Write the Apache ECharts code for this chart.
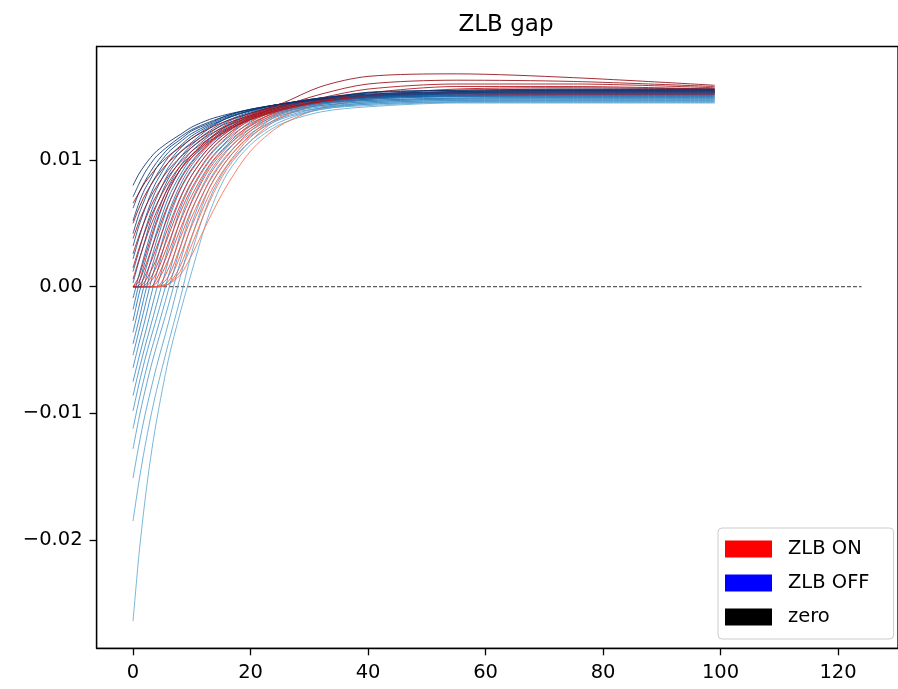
<!DOCTYPE html>
<html>
<head>
<meta charset="utf-8">
<script src="https://cdn.jsdelivr.net/npm/echarts@6/dist/echarts.min.js"></script>
<style>
html,body{margin:0;padding:0;background:#fff;}
#chart{width:898px;height:689px;}
</style>
</head>
<body>
<div id="chart"></div>
<script>
// Periods at which each path is read
const periods = [0,1,2,3,4,6,8,10,13,16,20,25,32,40,55,75,99];

// ZLB OFF paths (blue), lowest start first
const zlbOff = [
  [-0.0264,-0.0212,-0.0170,-0.0135,-0.0106,-0.0058,-0.0021,0.0012,0.0058,0.0089,0.0112,0.0128,0.0138,0.0142,0.0145,0.0145,0.0145],
  [-0.0185,-0.0154,-0.0127,-0.0103,-0.0082,-0.0045,-0.0010,0.0027,0.0069,0.0095,0.0115,0.0130,0.0140,0.0143,0.01455,0.01455,0.01455],
  [-0.0151,-0.0125,-0.0102,-0.0082,-0.0063,-0.0029,0.0007,0.0039,0.0078,0.0100,0.0119,0.0132,0.0140,0.0144,0.0146,0.0146,0.0146],
  [-0.0128,-0.0104,-0.0083,-0.0064,-0.0047,-0.0015,0.0019,0.0050,0.0084,0.0104,0.0121,0.0133,0.0141,0.0144,0.0146,0.01464,0.01464],
  [-0.0112,-0.0090,-0.0070,-0.0052,-0.0036,-0.0003,0.0030,0.0060,0.0090,0.0108,0.0123,0.0135,0.0141,0.0145,0.0147,0.0147,0.0147],
  [-0.0098,-0.0077,-0.0058,-0.0041,-0.0025,0.0008,0.0041,0.0068,0.0095,0.0111,0.0125,0.0136,0.0142,0.0145,0.0147,0.01474,0.01474],
  [-0.0086,-0.0066,-0.0048,-0.0031,-0.0014,0.0020,0.0052,0.0076,0.0099,0.0114,0.0127,0.0137,0.0143,0.0146,0.0148,0.0148,0.0148],
  [-0.0075,-0.0056,-0.0038,-0.0020,-0.0002,0.0031,0.0061,0.0082,0.0103,0.0117,0.0129,0.0138,0.0143,0.0146,0.0148,0.01484,0.01484],
  [-0.0064,-0.0045,-0.0027,-0.0008,0.0010,0.0043,0.0069,0.0088,0.0107,0.0120,0.0131,0.0139,0.0144,0.0147,0.01487,0.0149,0.0149],
  [-0.0054,-0.0035,-0.0016,0.0003,0.0020,0.0052,0.0076,0.0092,0.0110,0.0122,0.0132,0.0139,0.0145,0.0147,0.0149,0.01493,0.01493],
  [-0.0045,-0.0026,-0.0006,0.0012,0.0028,0.0058,0.0080,0.0096,0.0112,0.0123,0.0133,0.0140,0.0145,0.0148,0.0150,0.0150,0.0150],
  [-0.0036,-0.0016,0.0003,0.0020,0.0036,0.0064,0.0085,0.0099,0.0114,0.0125,0.0134,0.0141,0.0145,0.0148,0.0150,0.01503,0.01503],
  [-0.0027,-0.0006,0.0011,0.0027,0.0043,0.0070,0.0088,0.0102,0.0116,0.0126,0.0135,0.0142,0.0146,0.0149,0.01505,0.0151,0.0151],
  [-0.0018,0.0002,0.0019,0.0035,0.0050,0.0075,0.0092,0.0104,0.0117,0.0127,0.0136,0.0142,0.0146,0.0149,0.01507,0.01512,0.01512],
  [-0.0009,0.0009,0.0026,0.0042,0.0056,0.0079,0.0095,0.0107,0.0119,0.0128,0.0137,0.0142,0.0146,0.0149,0.0151,0.01517,0.01517],
  [0.0003,0.0020,0.0036,0.0052,0.0064,0.0085,0.0099,0.0110,0.0121,0.0130,0.0137,0.0143,0.0147,0.01495,0.01514,0.0152,0.0152],
  [0.0012,0.0028,0.0044,0.0058,0.0070,0.0089,0.0102,0.0112,0.0123,0.0131,0.0138,0.0143,0.0147,0.0150,0.0152,0.01526,0.01526],
  [0.0022,0.0038,0.0053,0.0066,0.0077,0.0094,0.0106,0.0114,0.0125,0.0133,0.0139,0.0144,0.0148,0.0150,0.01523,0.0153,0.0153],
  [0.0032,0.0048,0.0061,0.0073,0.0083,0.0098,0.0109,0.0117,0.0126,0.0133,0.0139,0.0144,0.0148,0.0151,0.0153,0.01536,0.01536],
  [0.0042,0.0057,0.0069,0.0080,0.0088,0.0102,0.0111,0.0119,0.0127,0.0133,0.0139,0.0144,0.0148,0.0151,0.0153,0.0154,0.0154],
  [0.0052,0.0066,0.0077,0.0085,0.0094,0.0106,0.0114,0.0121,0.0128,0.0134,0.0139,0.0144,0.0149,0.0152,0.0154,0.01546,0.01546],
  [0.0062,0.0074,0.0083,0.0091,0.0098,0.0109,0.0116,0.0123,0.0129,0.0135,0.0140,0.0144,0.0149,0.0152,0.0154,0.0155,0.0155],
  [0.0071,0.0081,0.0090,0.0097,0.0103,0.0111,0.0118,0.0124,0.0130,0.0135,0.0140,0.0144,0.0149,0.0153,0.0155,0.01555,0.01555],
  [0.0080,0.0089,0.0096,0.0102,0.0107,0.0114,0.0120,0.0126,0.0132,0.0136,0.0140,0.0144,0.0148,0.01535,0.0155,0.0156,0.0156]
];

// ZLB ON paths (red), most constrained first
const zlbOn = [
  [0,0,0,0,0,0.0002,0.0009,0.0025,0.0054,0.0080,0.0107,0.0127,0.0141,0.0148,0.0153,0.0155,0.0156],
  [0,0,0,0,0,0.0002,0.0012,0.0033,0.0067,0.0093,0.0115,0.0133,0.0144,0.0148,0.0153,0.0155,0.0155],
  [0,0,0,0,0,0.0002,0.0016,0.0040,0.0073,0.0096,0.0118,0.0134,0.0144,0.0148,0.0153,0.0155,0.0155],
  [0,0,0,0,0,0.0004,0.0024,0.0048,0.0078,0.0100,0.0120,0.0136,0.0145,0.0149,0.0153,0.0154,0.0155],
  [0,0,0,0,0,0.0008,0.0031,0.0055,0.0083,0.0103,0.0123,0.0137,0.0145,0.0150,0.0153,0.0154,0.0154],
  [0,0,0,0,0,0.0014,0.0038,0.0061,0.0088,0.0107,0.0125,0.0138,0.0146,0.0150,0.0153,0.0154,0.0154],
  [0,0,0,0,0.0003,0.0021,0.0045,0.0067,0.0093,0.0110,0.0127,0.0139,0.0146,0.0150,0.0153,0.0154,0.0154],
  [0,0,0,0,0.0006,0.0027,0.0051,0.0072,0.0096,0.0112,0.0128,0.0139,0.0147,0.0151,0.0153,0.0154,0.0154],
  [0,0,0,0.0004,0.0011,0.0034,0.0058,0.0078,0.0100,0.0115,0.0130,0.0140,0.0147,0.0151,0.0153,0.0154,0.0154],
  [0,0,0.0001,0.0007,0.0016,0.0040,0.0064,0.0083,0.0104,0.0118,0.0132,0.0141,0.0147,0.0151,0.0153,0.0154,0.0154],
  [0,0,0.0004,0.0012,0.0022,0.0047,0.0070,0.0088,0.0107,0.0120,0.0133,0.0142,0.0148,0.0151,0.0153,0.0153,0.0153],
  [0,0.0001,0.0008,0.0019,0.0031,0.0056,0.0077,0.0093,0.0110,0.0122,0.0134,0.0142,0.0148,0.0151,0.0153,0.0153,0.0153],
  [0,0.0004,0.0015,0.0028,0.0041,0.0065,0.0084,0.0098,0.0113,0.0124,0.0135,0.0143,0.0148,0.0151,0.0153,0.0153,0.0153],
  [0,0.0008,0.0023,0.0038,0.0052,0.0075,0.0092,0.0104,0.0117,0.0127,0.0136,0.0143,0.0148,0.0151,0.0152,0.0152,0.0152],
  [0.0006,0.0021,0.0035,0.0048,0.0059,0.0078,0.0092,0.0102,0.0114,0.0123,0.0132,0.0139,0.0146,0.0150,0.0154,0.0155,0.0155],
  [0.0015,0.0030,0.0043,0.0055,0.0065,0.0082,0.0095,0.0104,0.0115,0.0124,0.0132,0.0140,0.0146,0.0151,0.0156,0.0157,0.0156],
  [0.0026,0.0040,0.0052,0.0063,0.0072,0.0087,0.0098,0.0107,0.0117,0.0125,0.0133,0.0140,0.0147,0.0153,0.0158,0.0158,0.0156],
  [0.0038,0.0051,0.0062,0.0071,0.0079,0.0092,0.0102,0.0110,0.0120,0.0127,0.0134,0.0141,0.0149,0.0156,0.0160,0.0160,0.0157],
  [0.0050,0.0062,0.0072,0.0080,0.0087,0.0098,0.0106,0.0113,0.0122,0.0129,0.0135,0.0142,0.0152,0.0160,0.0163,0.0162,0.0158],
  [0.0066,0.0074,0.0082,0.0088,0.0094,0.0103,0.0110,0.0117,0.0125,0.0131,0.0137,0.0144,0.0158,0.0166,0.0168,0.0165,0.0159]
];

// Zero reference line extent
const zeroLineX = [0, 124];
const zeroLineY = [0, 0];

// Tick labels
const xTicks = [0, 20, 40, 60, 80, 100, 120];
const yTicks = [-0.02, -0.01, 0, 0.01];

const legendNames = ['ZLB ON', 'ZLB OFF', 'zero'];
const titleText = 'ZLB gap';

// --- colour maps (matplotlib Blues / Reds) ---
const bluesStops = ['#f7fbff','#deebf7','#c6dbef','#9ecae1','#6baed6','#4292c6','#2171b5','#08519c','#08306b'];
const redsStops  = ['#fff5f0','#fee0d2','#fcbba1','#fc9272','#fb6a4a','#ef3b2c','#cb181d','#a50f15','#67000d'];
function hex2rgb(h){return [parseInt(h.slice(1,3),16),parseInt(h.slice(3,5),16),parseInt(h.slice(5,7),16)];}
function cmap(stops, t){
  t = Math.max(0, Math.min(1, t));
  const p = t * (stops.length - 1);
  const i = Math.min(stops.length - 2, Math.floor(p));
  const f = p - i;
  const a = hex2rgb(stops[i]), b = hex2rgb(stops[i+1]);
  const c = a.map((v,k)=>Math.round(v + (b[k]-v)*f));
  return 'rgb(' + c.join(',') + ')';
}

const FONT = 'DejaVu Sans';

// build line series, interleaving red and blue by relative position
const items = [];
zlbOn.forEach((path, i) => {
  const f = i / (zlbOn.length - 1);
  items.push({order: f + 0.001, s: {
    name: 'ZLB ON', type: 'line', symbol: 'none', silent: true, smooth: 0.3,
    data: periods.map((t, j) => [t, path[j]]),
    lineStyle: {color: cmap(redsStops, 0.48 + 0.44 * f), width: 1, opacity: 0.85},
    itemStyle: {color: '#ff0000'}
  }});
});
zlbOff.forEach((path, i) => {
  const f = i / (zlbOff.length - 1);
  items.push({order: f, s: {
    name: 'ZLB OFF', type: 'line', symbol: 'none', silent: true, smooth: 0.3,
    data: periods.map((t, j) => [t, path[j]]),
    lineStyle: {color: cmap(bluesStops, 0.52 + 0.48 * f), width: 1, opacity: 0.85},
    itemStyle: {color: '#0000ff'}
  }});
});
items.sort((a, b) => a.order - b.order);

const series = [{
  name: 'zero', type: 'line', symbol: 'none', silent: true,
  data: zeroLineX.map((x,i)=>[x, zeroLineY[i]]),
  lineStyle: {color: '#000', width: 0.8, type: [4, 2]},
  itemStyle: {color: '#000'}
}].concat(items.map(it => it.s));

const chart = echarts.init(document.getElementById('chart'), null, {renderer: 'canvas'});
chart.setOption({
  animation: false,
  backgroundColor: '#fff',
  title: {
    text: titleText, left: 501, top: 9, textAlign: 'center',
    textStyle: {fontFamily: FONT, fontWeight: 'normal', fontSize: 23, color: '#000'}
  },
  grid: {
    left: 96.6, top: 46.5, right: -7.2, bottom: 40.7,
    show: true, borderColor: '#000', borderWidth: 1.3, backgroundColor: 'transparent'
  },
  legend: {
    orient: 'vertical', left: 718, top: 528,
    padding: [11, 24, 12, 7],
    itemWidth: 47, itemHeight: 17, itemGap: 14,
    backgroundColor: '#fff', borderColor: '#cccccc', borderWidth: 1, borderRadius: 4,
    selectedMode: false,
    textStyle: {fontFamily: FONT, fontSize: 19.5, color: '#000', lineHeight: 17, padding: [0, 0, 0, 11]},
    data: [
      {name: legendNames[0], icon: 'rect', itemStyle: {color: '#ff0000', borderWidth: 0}},
      {name: legendNames[1], icon: 'rect', itemStyle: {color: '#0000ff', borderWidth: 0}},
      {name: legendNames[2], icon: 'rect', itemStyle: {color: '#000000', borderWidth: 0}}
    ]
  },
  xAxis: {
    type: 'value', min: -6.2, max: 130.2,
    splitLine: {show: false},
    axisLine: {show: true, onZero: false, lineStyle: {color: '#000', width: 1.3}},
    axisTick: {show: true, length: 7, customValues: xTicks, lineStyle: {color: '#000', width: 1.3}},
    axisLabel: {customValues: xTicks, margin: 15, fontFamily: FONT, fontSize: 19.5, color: '#000',
      formatter: v => String(v)}
  },
  yAxis: {
    type: 'value', min: -0.02854, max: 0.01896,
    splitLine: {show: false},
    axisLine: {show: true, onZero: false, lineStyle: {color: '#000', width: 1.3}},
    axisTick: {show: true, length: 7, customValues: yTicks, lineStyle: {color: '#000', width: 1.3}},
    axisLabel: {customValues: yTicks, margin: 14, fontFamily: FONT, fontSize: 19.5, color: '#000',
      formatter: v => v.toFixed(2).replace('-', '\u2212')}
  },
  series: series
});
</script>
</body>
</html>
